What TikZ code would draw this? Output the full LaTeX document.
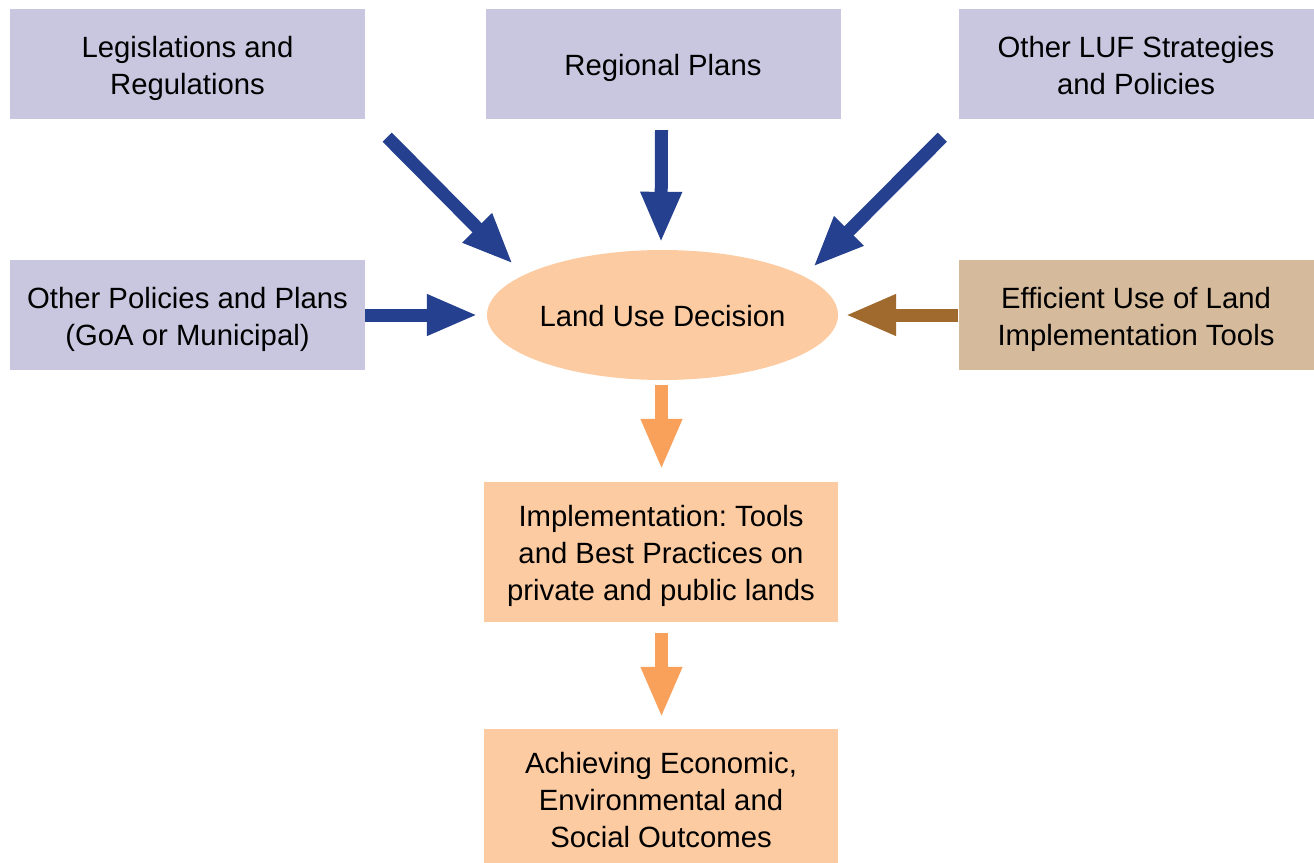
\documentclass[tikz,border=0pt]{standalone}
\usepackage{fontspec}
\setmainfont{Liberation Sans}
\usetikzlibrary{arrows.meta,shapes.geometric}
\definecolor{lav}{HTML}{C9C7E0}
\definecolor{tan}{HTML}{D5BB9C}
\definecolor{peach}{HTML}{FCCBA1}
\definecolor{navy}{HTML}{25408F}
\definecolor{brownarr}{HTML}{A0692D}
\definecolor{orangearr}{HTML}{F9A05A}
\frenchspacing
\newcommand\lbl[2][5pt]{\raisebox{-#1}[\height][\depth]{\begin{tabular}{@{}c@{}}#2\end{tabular}}}
\begin{document}
\begin{tikzpicture}[x=1pt,y=-1pt,
  every node/.style={font=\fontsize{29.3}{37}\selectfont, inner sep=0pt, text=black},
  box/.style={rectangle, minimum width=355pt, minimum height=110pt},
  inbox/.style={box, fill=lav},
  tanbox/.style={box, fill=tan},
  outbox/.style={rectangle, fill=peach, minimum width=354pt, minimum height=140pt},
  bigarrow/.style={line width=13pt, -{Triangle[length=51pt,width=38pt]}},
]
\useasboundingbox (0,0) rectangle (1314,862);
\clip (0,0) rectangle (1314,862);

\node[inbox] (tl) at (187.5,64) {\lbl{Legislations and\\Regulations}};
\node[inbox] (tc) at (663,64) {\lbl[4pt]{Regional Plans}};
\node[inbox] (tr) at (1136,64) {\lbl{Other LUF Strategies\\and Policies}};
\node[inbox] (ml) at (187.5,315) {\lbl[4.5pt]{Other Policies and Plans\\(GoA or Municipal)}};
\node[tanbox] (mr) at (1136,315) {\lbl[4.5pt]{Efficient Use of Land\\Implementation Tools}};
\node[ellipse, fill=peach, minimum width=351pt, minimum height=130pt] (dec) at (662.5,315) {\lbl[4pt]{Land Use Decision}};
\node[outbox] (impl) at (661,552) {\lbl[4.5pt]{Implementation: Tools\\and Best Practices on\\private and public lands}};
\node[outbox, minimum height=142pt] (ach) at (661,800) {\lbl[3.5pt]{Achieving Economic,\\Environmental and\\Social Outcomes}};

\coordinate (tlend) at (513,264);
\coordinate (trend) at (813,267);

\draw[bigarrow, draw=navy, fill=navy] ([shift={(22,18)}]tl.south east) -- (tlend);
\draw[bigarrow, draw=navy, fill=navy] ([shift={(-1.5,11)}]tc.south) -- ([shift={(-1.5,-7)}]dec.north);
\draw[bigarrow, draw=navy, fill=navy] ([shift={(-16,18)}]tr.south west) -- (trend);
\draw[bigarrow, draw=navy, fill=navy] (ml.east) -- ([shift={(-9,0)}]dec.west);
\draw[bigarrow, draw=brownarr, fill=brownarr] (mr.west) -- ([shift={(7,0)}]dec.east);
\draw[bigarrow, draw=orangearr, fill=orangearr] ([shift={(-1,5)}]dec.south) -- ([shift={(0.5,-12)}]impl.north);
\draw[bigarrow, draw=orangearr, fill=orangearr] ([shift={(0.5,11)}]impl.south) -- ([shift={(0.5,-11)}]ach.north);
\end{tikzpicture}
\end{document}
